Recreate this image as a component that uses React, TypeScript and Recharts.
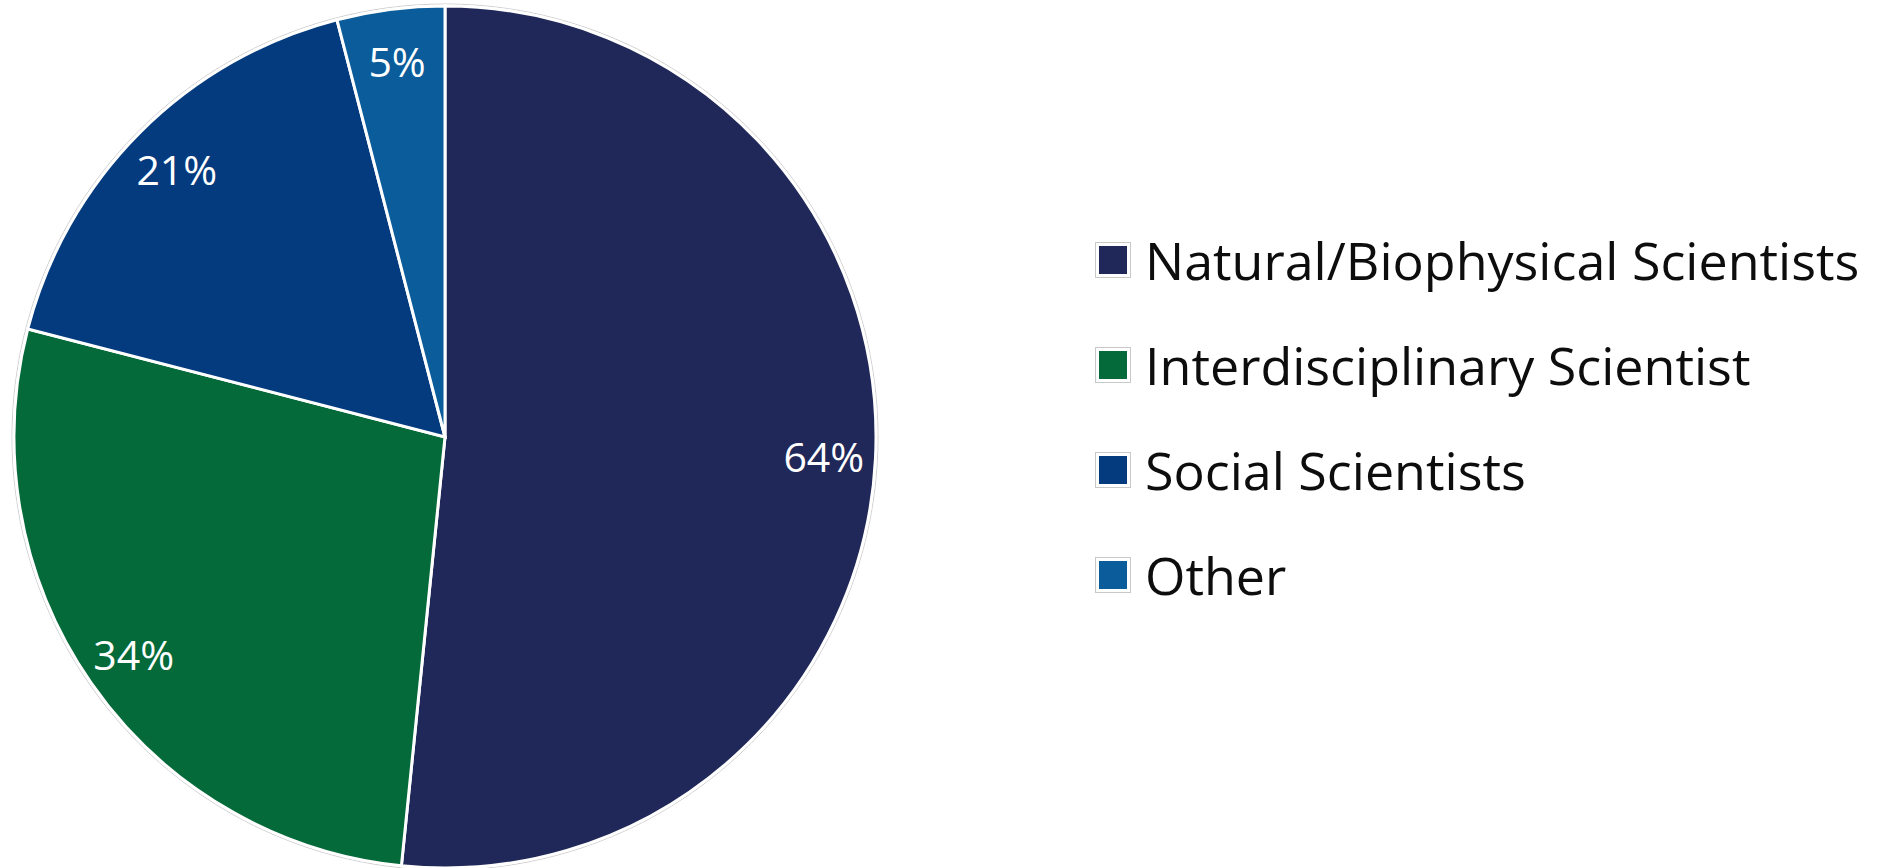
import React from 'react';
import { PieChart, Pie, Cell, Legend } from 'recharts';

const categories = [
  'Natural/Biophysical Scientists',
  'Interdisciplinary Scientist',
  'Social Scientists',
  'Other',
];
const shares = [64, 34, 21, 5];
const COLORS = ['#1f2858', '#056a39', '#043b7f', '#0b5c9a'];

const data = categories.map((name, i) => ({ name, value: shares[i] }));
const outline = [{ name: 'outline', value: 1 }];

const RAD = Math.PI / 180;
const FONT = '"Open Sans", "Noto Sans", sans-serif';

const renderLabel = (props: any) => {
  const { cx, cy, midAngle, outerRadius, value } = props;
  const r = outerRadius * 0.88;
  const x = cx + r * Math.cos(-midAngle * RAD);
  const y = cy + r * Math.sin(-midAngle * RAD);
  return (
    <text
      x={x}
      y={y}
      fill="#ffffff"
      textAnchor="middle"
      dominantBaseline="central"
      fontSize={41}
      fontFamily={FONT}
    >
      {`${value}%`}
    </text>
  );
};

// legend keeps the data order (recharts would sort it by name)
const renderLegend = () => (
  <div style={{ fontFamily: FONT }}>
    {categories.map((name, i) => (
      <div key={name} style={{ display: 'flex', alignItems: 'center', height: 105 }}>
        <div
          style={{
            width: 28,
            height: 28,
            background: COLORS[i],
            border: '3px solid #ffffff',
            outline: '1px solid #c8c8c8',
            marginRight: 15,
            flexShrink: 0,
          }}
        />
        <span style={{ fontSize: 52, color: '#0d0d0d', whiteSpace: 'nowrap', lineHeight: 1 }}>
          {name}
        </span>
      </div>
    ))}
  </div>
);

export default function App() {
  return (
    <div style={{ position: 'absolute', left: 0, top: 0, width: 1882, height: 868, background: '#ffffff' }}>
      <PieChart width={1882} height={868} margin={{ top: 0, right: 0, bottom: 0, left: 0 }}>
        <Pie
          data={outline}
          dataKey="value"
          cx={445}
          cy={437}
          outerRadius={433}
          fill="#ffffff"
          stroke="#d0d0d0"
          strokeWidth={1}
          legendType="none"
          isAnimationActive={false}
        />
        <Pie
          data={data}
          dataKey="value"
          nameKey="name"
          cx={445}
          cy={437}
          outerRadius={431}
          startAngle={90}
          endAngle={-270}
          stroke="#ffffff"
          strokeWidth={3}
          label={renderLabel}
          labelLine={false}
          isAnimationActive={false}
        >
          {data.map((entry, i) => (
            <Cell key={entry.name} fill={COLORS[i]} />
          ))}
        </Pie>
        <Legend
          layout="vertical"
          content={renderLegend}
          wrapperStyle={{ left: 1096, top: 207, width: 780 }}
        />
      </PieChart>
    </div>
  );
}
